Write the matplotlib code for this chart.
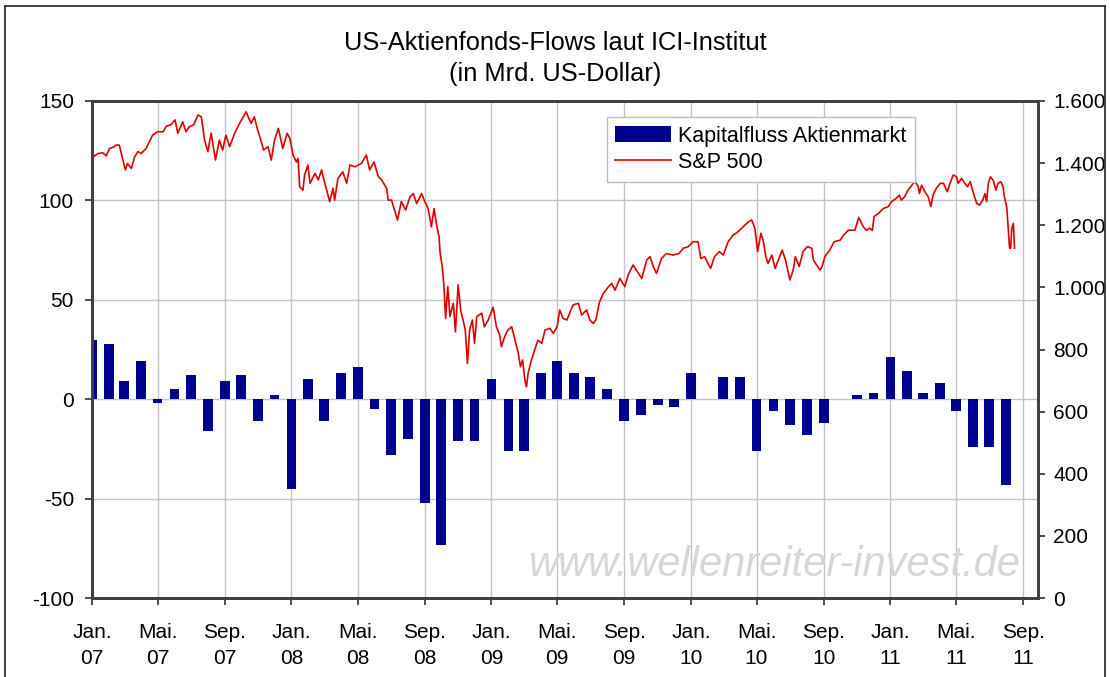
"""
US-Aktienfonds-Flows (ICI) vs. S&P 500, Jan 2007 - Aug 2011
"""
import pandas as pd
import matplotlib
matplotlib.use('Agg')
import matplotlib.pyplot as plt
from matplotlib.ticker import FuncFormatter
from matplotlib.lines import Line2D

plt.rcParams['font.family'] = ['Liberation Sans', 'DejaVu Sans']
plt.rcParams['axes.unicode_minus'] = False

# monatliche Kapitalfluesse in Mrd. USD (Jan 2007 .. Aug 2011)
flow_months = pd.date_range('2007-01-01', periods=56, freq='MS')
flow_values = [
    30, 28, 9, 19, -2, 5, 12, -16, 9, 12, -11, 2,          # 2007
    -45, 10, -11, 13, 16, -5, -28, -20, -52, -73.5, -21, -21,  # 2008
    10, -26, -26, 13, 19, 13, 11, 5, -11, -8, -3, -4,       # 2009
    13, 0, 11, 11, -26, -6, -13, -18, -12, 0, 2, 3,         # 2010
    21, 14, 3, 8, -6, -24, -24, -43,                        # 2011
]

# S&P 500
sp_dates = [
    "2007-01-03", "2007-01-12", "2007-01-21", "2007-01-27", "2007-02-02", "2007-02-11", "2007-02-14",
    "2007-02-20", "2007-02-26", "2007-03-03", "2007-03-07", "2007-03-14", "2007-03-20", "2007-03-26",
    "2007-04-01", "2007-04-10", "2007-04-16", "2007-04-22", "2007-05-01", "2007-05-11", "2007-05-17",
    "2007-05-25", "2007-06-02", "2007-06-07", "2007-06-16", "2007-06-22", "2007-06-28", "2007-07-06",
    "2007-07-14", "2007-07-20", "2007-07-26", "2007-08-01", "2007-08-07", "2007-08-15", "2007-08-22",
    "2007-08-28", "2007-09-03", "2007-09-10", "2007-09-19", "2007-09-28", "2007-10-10", "2007-10-19",
    "2007-10-25", "2007-10-31", "2007-11-06", "2007-11-11", "2007-11-19", "2007-11-25", "2007-12-01",
    "2007-12-08", "2007-12-16", "2007-12-24", "2007-12-29",
    "2008-01-04", "2008-01-10", "2008-01-13", "2008-01-16", "2008-01-22", "2008-01-25", "2008-01-31",
    "2008-02-04", "2008-02-13", "2008-02-19", "2008-02-25", "2008-03-02", "2008-03-11", "2008-03-17",
    "2008-03-20", "2008-03-26", "2008-04-04", "2008-04-11", "2008-04-17", "2008-04-26", "2008-05-08",
    "2008-05-17", "2008-05-23", "2008-05-31", "2008-06-08", "2008-06-14", "2008-06-23", "2008-06-26",
    "2008-07-02", "2008-07-13", "2008-07-20", "2008-07-28", "2008-08-05", "2008-08-11", "2008-08-17",
    "2008-08-26", "2008-09-01", "2008-09-07", "2008-09-13", "2008-09-18", "2008-09-22", "2008-09-27",
    "2008-09-29", "2008-10-03", "2008-10-06", "2008-10-09", "2008-10-13", "2008-10-17", "2008-10-23",
    "2008-10-27", "2008-11-01", "2008-11-06", "2008-11-10", "2008-11-14", "2008-11-18", "2008-11-22",
    "2008-11-27", "2008-12-01", "2008-12-05", "2008-12-14", "2008-12-19", "2008-12-26",
    "2009-01-04", "2009-01-10", "2009-01-16", "2009-01-19", "2009-01-25", "2009-01-31", "2009-02-07",
    "2009-02-13", "2009-02-19", "2009-02-23", "2009-02-27", "2009-03-03", "2009-03-06", "2009-03-09",
    "2009-03-15", "2009-03-21", "2009-03-27", "2009-04-03", "2009-04-09", "2009-04-18", "2009-04-24",
    "2009-05-01", "2009-05-06", "2009-05-12", "2009-05-19", "2009-05-30", "2009-06-09", "2009-06-15",
    "2009-06-24", "2009-06-30", "2009-07-06", "2009-07-11", "2009-07-17", "2009-07-24", "2009-08-03",
    "2009-08-09", "2009-08-15", "2009-08-24", "2009-09-02", "2009-09-08", "2009-09-17", "2009-09-23",
    "2009-10-03", "2009-10-12", "2009-10-18", "2009-10-24", "2009-10-30", "2009-11-08", "2009-11-17",
    "2009-11-29", "2009-12-10", "2009-12-18", "2009-12-27",
    "2010-01-05", "2010-01-14", "2010-01-19", "2010-01-26", "2010-02-01", "2010-02-06", "2010-02-13",
    "2010-02-22", "2010-03-01", "2010-03-10", "2010-03-19", "2010-03-28", "2010-04-07", "2010-04-16",
    "2010-04-22", "2010-04-28", "2010-05-03", "2010-05-09", "2010-05-13", "2010-05-18", "2010-05-22",
    "2010-05-29", "2010-06-04", "2010-06-10", "2010-06-17", "2010-06-23", "2010-07-01", "2010-07-07",
    "2010-07-11", "2010-07-18", "2010-07-25", "2010-08-02", "2010-08-10", "2010-08-13", "2010-08-19",
    "2010-08-25", "2010-08-29", "2010-09-03", "2010-09-12", "2010-09-20", "2010-10-01", "2010-10-07",
    "2010-10-16", "2010-10-28", "2010-11-04", "2010-11-12", "2010-11-18", "2010-11-24", "2010-11-29",
    "2010-12-02", "2010-12-10", "2010-12-19", "2010-12-28",
    "2011-01-03", "2011-01-12", "2011-01-17", "2011-01-21", "2011-01-27", "2011-02-02", "2011-02-12",
    "2011-02-15", "2011-02-21", "2011-02-23", "2011-02-27", "2011-03-05", "2011-03-11", "2011-03-16",
    "2011-03-20", "2011-03-26", "2011-04-02", "2011-04-08", "2011-04-15", "2011-04-20", "2011-04-26",
    "2011-05-02", "2011-05-05", "2011-05-11", "2011-05-17", "2011-05-22", "2011-05-27", "2011-06-02",
    "2011-06-08", "2011-06-13", "2011-06-19", "2011-06-23", "2011-06-26", "2011-06-29", "2011-07-03",
    "2011-07-08", "2011-07-13", "2011-07-17", "2011-07-22", "2011-07-26", "2011-07-28", "2011-08-02",
    "2011-08-05", "2011-08-07", "2011-08-09", "2011-08-11", "2011-08-14", "2011-08-16",
]
sp_values = [
    1420, 1431, 1433, 1423, 1447, 1453, 1458, 1458, 1415, 1378, 1399, 1383, 1420, 1437,
    1431, 1447, 1469, 1490, 1501, 1501, 1519, 1523, 1539, 1496, 1533, 1501, 1517, 1523,
    1555, 1549, 1474, 1437, 1496, 1410, 1474, 1442, 1490, 1453, 1496, 1528, 1565, 1528,
    1549, 1507, 1474, 1442, 1453, 1410, 1474, 1512, 1447, 1496, 1480,
    1426, 1404, 1415, 1324, 1313, 1362, 1394, 1335, 1367, 1346, 1378, 1335, 1276, 1319,
    1281, 1351, 1372, 1335, 1394, 1388, 1399, 1426, 1378, 1404, 1356, 1346, 1319, 1281,
    1281, 1217, 1276, 1249, 1292, 1302, 1270, 1302, 1276, 1254, 1195, 1254, 1206, 1163,
    1110, 1066, 1002, 900, 1002, 906, 949, 857, 1008, 922, 895, 863, 755, 863,
    895, 820, 906, 917, 873, 895,
    936, 873, 847, 809, 841, 863, 873, 830, 788, 745, 766, 702, 680, 723,
    766, 798, 830, 820, 863, 868, 852, 873, 927, 900, 895, 943, 949, 911,
    927, 895, 884, 895, 949, 979, 1002, 1013, 991, 1029, 1002, 1040, 1072, 1056,
    1029, 1088, 1099, 1067, 1045, 1093, 1109, 1104, 1109, 1126, 1131,
    1147, 1147, 1093, 1099, 1077, 1061, 1099, 1115, 1104, 1147, 1168, 1179, 1196, 1211,
    1217, 1190, 1115, 1174, 1152, 1099, 1077, 1104, 1061, 1088, 1120, 1088, 1024, 1056,
    1099, 1067, 1115, 1131, 1126, 1088, 1072, 1056, 1067, 1099, 1120, 1147, 1152, 1168,
    1184, 1184, 1225, 1196, 1184, 1190, 1184, 1228, 1238, 1254, 1260,
    1276, 1287, 1297, 1281, 1292, 1313, 1335, 1340, 1324, 1302, 1329, 1308, 1292, 1260,
    1297, 1319, 1335, 1335, 1308, 1335, 1362, 1356, 1335, 1351, 1335, 1324, 1340, 1302,
    1270, 1265, 1281, 1302, 1276, 1335, 1356, 1345, 1313, 1335, 1340, 1324, 1297, 1254,
    1174, 1126, 1126, 1190, 1206, 1126,
]

month_names = {1: 'Jan.', 5: 'Mai.', 9: 'Sep.'}
tick_dates = pd.date_range('2007-01-01', '2011-09-01', freq='4MS')

BLUE = '#000090'
RED = '#E00000'
AXIS = '#404040'
GRID = '#c4c4c4'

fig = plt.figure(figsize=(11.10, 6.77), dpi=100)
ax = fig.add_axes([92 / 1110, 79 / 677, (1038 - 92) / 1110, 497 / 677])
ax2 = ax.twinx()

bars = ax.bar(flow_months, flow_values, width=18, color=BLUE, zorder=3)
line, = ax2.plot(pd.to_datetime(sp_dates), sp_values, color=RED, lw=1.2, zorder=3)

ax.set_xlim(pd.Timestamp('2007-01-01'), pd.Timestamp('2011-09-28'))
ax.set_ylim(-100, 150)
ax.set_yticks(range(-100, 151, 50))
ax2.set_ylim(0, 1600)
ax2.set_yticks(range(0, 1601, 200))
ax2.yaxis.set_major_formatter(FuncFormatter(lambda v, p: f"{int(v):,}".replace(",", ".")))

ax.set_xticks(tick_dates)
ax.set_xticklabels([f"{month_names[d.month]}\n{d.strftime('%y')}" for d in tick_dates],
                   linespacing=1.45)

ax.set_axisbelow(True)
ax.grid(True, color=GRID, lw=1.0)

for a in (ax, ax2):
    for s in a.spines.values():
        s.set_color(AXIS)
        s.set_linewidth(2.0)
    a.tick_params(direction='out', length=5, width=1.3, color=AXIS, labelsize=15)
ax.tick_params(axis='x', pad=13)
ax.tick_params(axis='y', pad=8)
ax2.tick_params(axis='y', pad=6)

# Wasserzeichen
ax.text(0.722, 0.067, 'www.wellenreiter-invest.de', transform=ax.transAxes,
        fontsize=30, style='italic', color='#d6d6d6', ha='center', va='center', zorder=0.6)

ax2.legend([bars, line], ['Kapitalfluss Aktienmarkt', 'S&P 500'], loc='upper left',
           bbox_to_anchor=(0.544, 0.968), borderaxespad=0, fancybox=False,
           edgecolor='#bdbdbd', framealpha=1, fontsize=15.5, handlelength=2.6,
           handletextpad=0.3, borderpad=0.4, labelspacing=0.25)

fig.text(0.5, 1 - 43 / 677, 'US-Aktienfonds-Flows laut ICI-Institut', ha='center', va='center', fontsize=18.3)
fig.text(0.5, 1 - 74 / 677, '(in Mrd. US-Dollar)', ha='center', va='center', fontsize=18.3)

# Rahmen um das Diagramm
for xs, ys in [([5, 5], [677, 6]), ([5, 1105], [6, 6]), ([1105, 1105], [6, 677])]:
    fig.add_artist(Line2D([x / 1110 for x in xs], [1 - y / 677 for y in ys],
                          transform=fig.transFigure, color='#303030', lw=1.3))

fig.savefig('out.png', dpi=100)
